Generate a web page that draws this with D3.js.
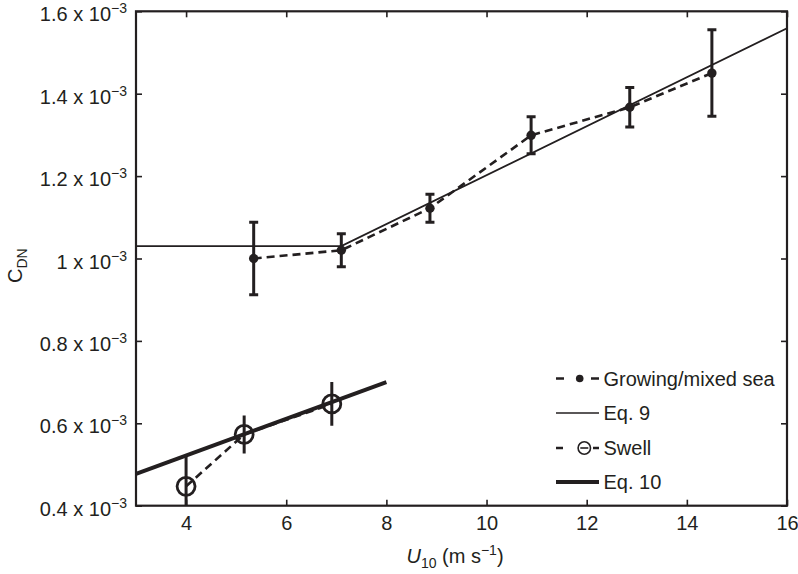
<!DOCTYPE html>
<html>
<head>
<meta charset="utf-8">
<script src="https://cdn.jsdelivr.net/npm/d3@7"></script>
<style>
  html, body { margin: 0; padding: 0; background: #fff; }
  svg { display: block; }
  text { font-family: "Liberation Sans", Arial, Helvetica, sans-serif; fill: #231f20; }
</style>
</head>
<body>
<svg id="chart" width="798" height="574"></svg>
<script>
// ---- Data (C_DN values in units of 10^-3) ----
const growU   = [5.35, 7.10, 8.87, 10.89, 12.86, 14.50];
const growC   = [1.000, 1.020, 1.122, 1.299, 1.367, 1.450];
const growErr = [0.088, 0.040, 0.034, 0.045, 0.048, 0.105];

const swellU   = [4.00, 5.16, 6.91];
const swellC   = [0.447, 0.573, 0.647];
const swellErr = [0.076, 0.046, 0.053];

const eq9U  = [3, 7.1, 16];
const eq9C  = [1.03, 1.03, 1.559];
const eq10U = [3, 8];
const eq10C = [0.477, 0.70];

const xTicks = [4, 6, 8, 10, 12, 14, 16];
const yTicks = [0.4, 0.6, 0.8, 1.0, 1.2, 1.4, 1.6];
const yTickLabels = ["0.4", "0.6", "0.8", "1", "1.2", "1.4", "1.6"];

const legendLabels = ["Growing/mixed sea", "Eq. 9", "Swell", "Eq. 10"];

// ---- Layout ----
const ink = "#231f20";
const FS = 20, FSS = 14;
const L = 136, R = 787, T = 11.3, B = 505.7;
const svg = d3.select("#chart");

const x = d3.scaleLinear().domain([3, 16]).range([L, R]);
const y = d3.scaleLinear().domain([0.4, 1.6]).range([B, T]);

svg.append("defs").append("clipPath").attr("id", "plotclip")
  .append("rect").attr("x", L).attr("y", T).attr("width", R - L).attr("height", B - T);

// ---- Axes (inward ticks on all four sides) ----
function styleAxis(g) {
  g.select(".domain").remove();
  g.selectAll(".tick line").attr("stroke", ink).attr("stroke-width", 1.6);
}
svg.append("g").attr("transform", `translate(0,${B})`)
  .call(d3.axisBottom(x).tickValues(xTicks).tickSize(-6).tickPadding(10).tickFormat(d3.format("d")))
  .call(styleAxis)
  .call(g => g.selectAll("text").attr("font-size", FS).attr("fill", ink)
      .attr("font-family", "Liberation Sans, Arial, sans-serif"));
svg.append("g").attr("transform", `translate(0,${T})`)
  .call(d3.axisTop(x).tickValues(xTicks).tickSize(-6).tickFormat(""))
  .call(styleAxis);
svg.append("g").attr("transform", `translate(${L},0)`)
  .call(d3.axisLeft(y).tickValues(yTicks).tickSize(-6).tickFormat(""))
  .call(styleAxis);
svg.append("g").attr("transform", `translate(${R},0)`)
  .call(d3.axisRight(y).tickValues(yTicks).tickSize(-6).tickFormat(""))
  .call(styleAxis);

// y tick labels with superscript
const yl = svg.append("g");
yTicks.forEach((v, i) => {
  const t = yl.append("text")
    .attr("x", L - 9).attr("y", y(v) + 10)
    .attr("text-anchor", "end").attr("font-size", FS);
  t.append("tspan").text(yTickLabels[i] + " x 10");
  t.append("tspan").attr("font-size", FSS).attr("dy", -8).text("\u22123");
});

// frame
svg.append("rect").attr("x", L).attr("y", T).attr("width", R - L).attr("height", B - T)
  .attr("fill", "none").attr("stroke", ink).attr("stroke-width", 2.2);

// ---- Axis titles ----
const xt = svg.append("text").attr("x", 455).attr("y", 563).attr("text-anchor", "middle").attr("font-size", FS);
xt.append("tspan").attr("font-style", "italic").text("U");
xt.append("tspan").attr("font-size", FSS).attr("dy", 5).text("10");
xt.append("tspan").attr("dy", -5).text(" (m s");
xt.append("tspan").attr("font-size", FSS).attr("dy", -8).text("\u22121");
xt.append("tspan").attr("dy", 8).text(")");

const yt = svg.append("text").attr("transform", "translate(22,283) rotate(-90)").attr("font-size", FS);
yt.append("tspan").text("C");
yt.append("tspan").attr("font-size", FSS).attr("dy", 5).text("DN");

// ---- Plot content ----
const plot = svg.append("g").attr("clip-path", "url(#plotclip)");
const line = d3.line().x(d => x(d[0])).y(d => y(d[1]));

// Eq. 9
plot.append("path").datum(d3.zip(eq9U, eq9C)).attr("d", line)
  .attr("fill", "none").attr("stroke", ink).attr("stroke-width", 1.8);
// Eq. 10
plot.append("path").datum(d3.zip(eq10U, eq10C)).attr("d", line)
  .attr("fill", "none").attr("stroke", ink).attr("stroke-width", 4);

// dashed connections
plot.append("path").datum(d3.zip(growU, growC)).attr("d", line)
  .attr("fill", "none").attr("stroke", ink).attr("stroke-width", 2.6).attr("stroke-dasharray", "8,5");
plot.append("path").datum(d3.zip(swellU, swellC)).attr("d", line)
  .attr("fill", "none").attr("stroke", ink).attr("stroke-width", 2.6).attr("stroke-dasharray", "8,5");

// error bars – growing (with caps)
const gData = growU.map((u, i) => ({ u, c: growC[i], e: growErr[i] }));
const ge = plot.append("g").attr("stroke", ink).attr("stroke-width", 3);
ge.selectAll("line.v").data(gData).join("line")
  .attr("x1", d => x(d.u)).attr("x2", d => x(d.u))
  .attr("y1", d => y(d.c - d.e)).attr("y2", d => y(d.c + d.e));
ge.selectAll("line.t").data(gData).join("line")
  .attr("x1", d => x(d.u) - 4.5).attr("x2", d => x(d.u) + 4.5)
  .attr("y1", d => y(d.c + d.e)).attr("y2", d => y(d.c + d.e));
ge.selectAll("line.b").data(gData).join("line")
  .attr("x1", d => x(d.u) - 4.5).attr("x2", d => x(d.u) + 4.5)
  .attr("y1", d => y(d.c - d.e)).attr("y2", d => y(d.c - d.e));

// error bars – swell (no caps)
const sData = swellU.map((u, i) => ({ u, c: swellC[i], e: swellErr[i] }));
plot.append("g").attr("stroke", ink).attr("stroke-width", 3)
  .selectAll("line").data(sData).join("line")
  .attr("x1", d => x(d.u)).attr("x2", d => x(d.u))
  .attr("y1", d => y(d.c - d.e)).attr("y2", d => y(d.c + d.e));

// markers
plot.append("g").selectAll("circle").data(gData).join("circle")
  .attr("cx", d => x(d.u)).attr("cy", d => y(d.c)).attr("r", 4.7).attr("fill", ink);
plot.append("g").selectAll("circle").data(sData).join("circle")
  .attr("cx", d => x(d.u)).attr("cy", d => y(d.c)).attr("r", 9)
  .attr("fill", "none").attr("stroke", ink).attr("stroke-width", 2.8);

// ---- Legend ----
const lg = svg.append("g");
const lx0 = 556, lx1 = 599, rowY = [378.5, 413, 448, 482], textX = 603.5;
legendLabels.forEach((lab, i) => {
  lg.append("text").attr("x", textX).attr("y", rowY[i] + 7).attr("font-size", FS).text(lab);
});
// Growing
lg.append("line").attr("x1", lx0).attr("x2", lx1).attr("y1", rowY[0]).attr("y2", rowY[0])
  .attr("stroke", ink).attr("stroke-width", 2.6).attr("stroke-dasharray", "8,27");
lg.append("circle").attr("cx", 579.7).attr("cy", rowY[0]).attr("r", 3.8).attr("fill", ink);
// Eq 9
lg.append("line").attr("x1", lx0).attr("x2", lx1).attr("y1", rowY[1]).attr("y2", rowY[1])
  .attr("stroke", ink).attr("stroke-width", 1.6);
// Swell
lg.append("line").attr("x1", lx0).attr("x2", lx1).attr("y1", rowY[2]).attr("y2", rowY[2])
  .attr("stroke", ink).attr("stroke-width", 2.6).attr("stroke-dasharray", "7,30");
lg.append("circle").attr("cx", 584.3).attr("cy", rowY[2]).attr("r", 6.2)
  .attr("fill", "none").attr("stroke", ink).attr("stroke-width", 1.6);
lg.append("line").attr("x1", 580.3).attr("x2", 588.3).attr("y1", rowY[2]).attr("y2", rowY[2])
  .attr("stroke", ink).attr("stroke-width", 1.6);
// Eq 10
lg.append("line").attr("x1", lx0).attr("x2", lx1).attr("y1", rowY[3]).attr("y2", rowY[3])
  .attr("stroke", ink).attr("stroke-width", 4);
</script>
</body>
</html>
